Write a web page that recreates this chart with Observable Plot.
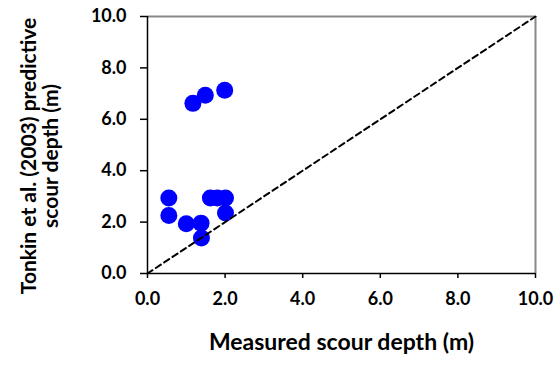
<!DOCTYPE html>
<html>
<head>
<meta charset="utf-8">
<script src="https://cdn.jsdelivr.net/npm/d3@7"></script>
<script src="https://cdn.jsdelivr.net/npm/@observablehq/plot@0.6"></script>
<style>
  html, body { margin: 0; padding: 0; background: #fff; }
  #chart svg { display: block; }
</style>
</head>
<body>
<div id="chart"></div>
<script>
// Measured scour depth (m)
const measured = [1.17, 1.49, 1.99, 0.55, 0.55, 1.00, 1.38, 1.39, 1.62, 1.80, 2.01, 2.01];
// Tonkin et al. (2003) predictive scour depth (m)
const predicted = [6.62, 6.94, 7.13, 2.94, 2.26, 1.94, 1.96, 1.38, 2.94, 2.94, 2.94, 2.35];
const ticks = [0, 2, 4, 6, 8, 10];
const lineX = [0, 10];
const lineY = [0, 10];
const xTitle = "Measured scour depth (m)";
const yTitle = "Tonkin et al. (2003) predictive\nscour depth (m)";

const points = measured.map((m, i) => ({m, p: predicted[i]}));
const diag = lineX.map((x, i) => ({x, y: lineY[i]}));

const font = "Lato, 'Open Sans', sans-serif";

const chart = Plot.plot({
  width: 559,
  height: 365,
  marginLeft: 147,
  marginRight: 24,
  marginTop: 16,
  marginBottom: 92,
  style: {fontFamily: font, fontWeight: "bold", fontSize: "18px", color: "#000", background: "#fff"},
  x: {domain: [0, 10]},
  y: {domain: [0, 10]},
  marks: [
    Plot.ruleY([10], {stroke: "#888", strokeWidth: 2}),
    Plot.ruleX([10], {stroke: "#888", strokeWidth: 2}),
    Plot.dot(points, {x: "m", y: "p", r: 8.5, fill: "#0000ff", stroke: "none"}),
    Plot.line(diag, {x: "x", y: "y", stroke: "#000", strokeWidth: 2, strokeDasharray: "6,4"}),
    Plot.axisX({ticks, tickSize: 5, tickPadding: 14, tickFormat: d3.format(".1f"), label: null, stroke: "#000", strokeWidth: 1.5, fontSize: 18}),
    Plot.axisY({ticks, tickSize: 7, tickPadding: 14, tickFormat: d3.format(".1f"), label: null, stroke: "#000", strokeWidth: 1.5, fontSize: 18}),
    Plot.ruleX([0], {stroke: "#000", strokeWidth: 1.5}),
    Plot.ruleY([0], {stroke: "#000", strokeWidth: 1.5}),
    Plot.text([xTitle], {frameAnchor: "bottom", dy: 76, fontSize: 23, fontWeight: "bold", fill: "#000"}),
    Plot.text([yTitle], {frameAnchor: "left", textAnchor: "middle", lineAnchor: "middle", rotate: -90, dx: -107.5, dy: 11, fontSize: 21, fontWeight: "bold", fill: "#000", lineHeight: 1.02})
  ]
});
document.getElementById("chart").appendChild(chart);
</script>
</body>
</html>
